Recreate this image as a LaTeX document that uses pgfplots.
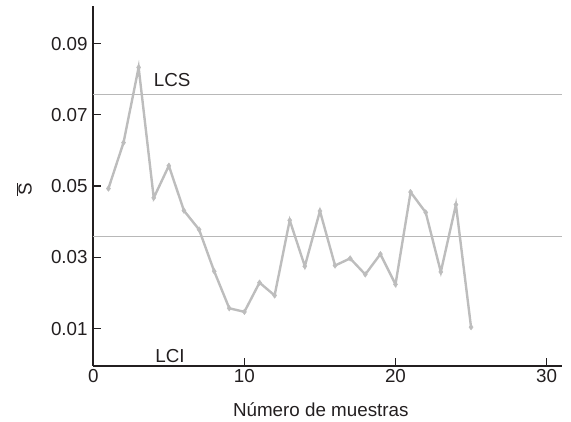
\documentclass[border=0pt]{standalone}
\usepackage{pgfplots}
\pgfplotsset{compat=1.18}
\usepackage{fontspec}
\setmainfont{Liberation Sans}
\definecolor{txt}{HTML}{231F20}
\definecolor{dat}{HTML}{BDBDBD}
\definecolor{refl}{HTML}{B8B8B8}
\begin{document}
\fontsize{18.8}{22}\selectfont
\begin{tikzpicture}
\useasboundingbox (-93.3pt,-56pt) rectangle (477.7pt,366pt);
\begin{axis}[
  at={(0pt,0pt)}, anchor=south west,
  scale only axis, width=468.4pt, height=360pt,
  xmin=0, xmax=31, ymin=-0.0005, ymax=0.10055,
  axis x line=bottom, axis y line=left,
  axis line style={-, line width=2.2pt, color=txt},
  tick align=inside, major tick length=8pt,
  tick style={line width=1.2pt, color=txt},
  xtick={0,10,20,30}, xticklabels={0,10,20,30},
  ytick={0.01,0.03,0.05,0.07,0.09},
  yticklabels={0.01,0.03,0.05,0.07,0.09},
  xticklabel style={anchor=north, inner sep=0pt, yshift=-3pt, text=txt},
  yticklabel style={anchor=east, inner sep=0pt, xshift=-5.5pt, text=txt},
  xlabel={Número de muestras},
  x label style={at={(axis description cs:0.4857,0)}, anchor=base, yshift=-50.7pt, inner sep=0pt, text=txt},
  ylabel={$\overline{\mbox{S}}$},
  y label style={at={(axis description cs:-0.1474,0.49)}, anchor=center, inner sep=0pt, text=txt},
  clip=false,
]
\addplot[refl, line width=1pt] coordinates {(0,0.0757) (31,0.0757)};
\addplot[refl, line width=1pt] coordinates {(0,0.0358) (31,0.0358)};
\addplot[dat, line width=2.4pt, mark=diamond*, mark size=2.8pt,
  mark options={solid, fill=dat, draw=dat, line width=0.4pt}] coordinates {
(1,0.0493) (2,0.0622) (3,0.0833) (4,0.0467) (5,0.0557)
(6,0.0431) (7,0.0378) (8,0.0261) (9,0.0157) (10,0.0147)
(11,0.0229) (12,0.0193) (13,0.0404) (14,0.0275) (15,0.0430)
(16,0.0277) (17,0.0297) (18,0.0252) (19,0.0309) (20,0.0224)
(21,0.0483) (22,0.0426) (23,0.0259) (24,0.0448) (25,0.0104)
};
\node[anchor=base west, inner sep=0pt, text=txt] at (axis cs:4,0.078) {LCS};
\node[anchor=base west, inner sep=0pt, text=txt] at (axis cs:4.1,0.0006) {LCI};
\end{axis}
\end{tikzpicture}
\end{document}
